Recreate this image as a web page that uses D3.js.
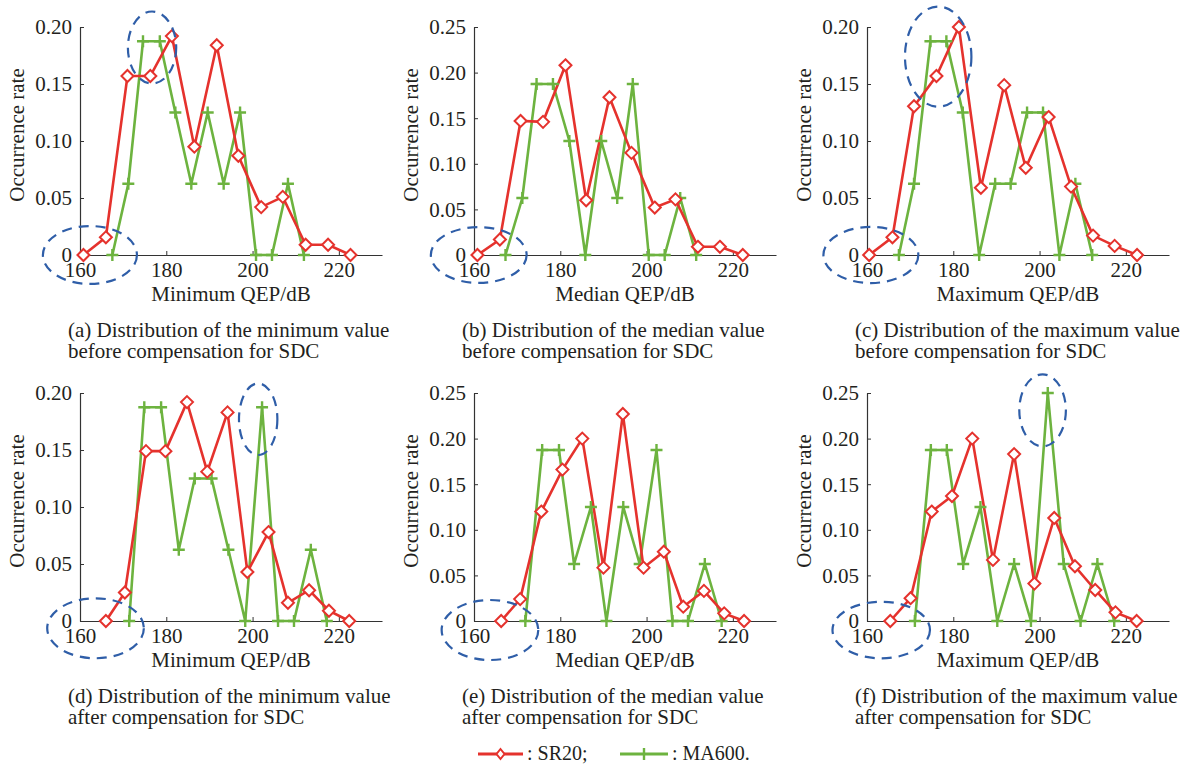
<!DOCTYPE html>
<html>
<head>
<meta charset="utf-8">
<script src="https://cdn.jsdelivr.net/npm/d3@7"></script>
<style>
  body { margin: 0; background: #fff; }
  svg text { font-family: "Liberation Serif", "DejaVu Serif", "Times New Roman", Times, serif; fill: #231f20; }
</style>
</head>
<body>
<svg id="chart" width="1194" height="764"></svg>
<script>
// x ticks and y ticks
const xTicks = [160, 180, 200, 220];
const yTicks20 = [0, 0.05, 0.10, 0.15, 0.20];
const yTicks25 = [0, 0.05, 0.10, 0.15, 0.20, 0.25];

// (a) minimum, before compensation
const sr20X_a = [160.8, 166, 171, 176.3, 181.3, 186.5, 191.7, 196.7, 202, 207, 212.3, 217.5, 222.7];
const sr20Y_a = [0, 0.0155, 0.157, 0.157, 0.192, 0.095, 0.184, 0.087, 0.042, 0.051, 0.009, 0.009, 0];
const ma600X_a = [167.5, 171.2, 174.6, 178.5, 182.1, 185.8, 189.6, 193.3, 197.1, 200.8, 204.5, 208.2, 211.9];
const ma600Y_a = [0, 0.0625, 0.1875, 0.1875, 0.125, 0.0625, 0.125, 0.0625, 0.125, 0, 0, 0.0625, 0];

// (b) median, before compensation
const sr20X_b = [160.8, 166, 170.8, 176, 181.2, 186, 191.4, 196.5, 201.9, 206.7, 211.9, 217, 222.3];
const sr20Y_b = [0, 0.017, 0.147, 0.146, 0.208, 0.060, 0.173, 0.112, 0.052, 0.061, 0.009, 0.009, 0];
const ma600X_b = [167.3, 171.2, 174.5, 178.3, 182.1, 185.8, 189.5, 193.2, 196.8, 200.5, 204.2, 207.8, 211.5];
const ma600Y_b = [0, 0.0625, 0.1875, 0.1875, 0.125, 0, 0.125, 0.0625, 0.1875, 0, 0, 0.0625, 0];

// (c) maximum, before compensation
const sr20X_c = [160.5, 165.9, 170.9, 176.1, 181.3, 186.4, 191.8, 196.8, 202.1, 207.3, 212.4, 217.4, 222.6];
const sr20Y_c = [0, 0.0155, 0.1305, 0.157, 0.200, 0.059, 0.149, 0.0765, 0.121, 0.060, 0.017, 0.008, 0];
const ma600X_c = [167.4, 170.9, 174.7, 178.4, 182.2, 186, 189.7, 193.3, 197.1, 200.8, 204.6, 208.3, 212.2];
const ma600Y_c = [0, 0.0625, 0.1875, 0.1875, 0.125, 0, 0.0625, 0.0625, 0.125, 0.125, 0, 0.0625, 0];

// (d) minimum, after compensation
const sr20X_d = [166, 170.4, 175.3, 179.8, 184.8, 189.5, 194.2, 198.8, 203.7, 208.2, 213.1, 217.7, 222.4];
const sr20Y_d = [0, 0.025, 0.149, 0.149, 0.192, 0.131, 0.183, 0.043, 0.078, 0.016, 0.027, 0.009, 0];
const ma600X_d = [171.4, 174.9, 178.8, 182.9, 186.6, 190.5, 194.4, 198.3, 202.2, 205.9, 209.6, 213.5, 217.2];
const ma600Y_d = [0, 0.1875, 0.1875, 0.0625, 0.125, 0.125, 0.0625, 0, 0.1875, 0, 0, 0.0625, 0];

// (e) median, after compensation
const sr20X_e = [166.3, 170.7, 175.6, 180.5, 185.1, 190, 194.5, 199.3, 204, 208.5, 213.3, 218, 222.6];
const sr20Y_e = [0, 0.024, 0.120, 0.166, 0.200, 0.0585, 0.227, 0.0585, 0.076, 0.0157, 0.033, 0.0084, 0];
const ma600X_e = [171.9, 175.8, 179.7, 183.2, 187.1, 190.7, 194.6, 198.4, 202.3, 206, 209.6, 213.5, 217.4];
const ma600Y_e = [0, 0.1875, 0.1875, 0.0625, 0.125, 0, 0.125, 0.0625, 0.1875, 0, 0, 0.0625, 0];

// (f) maximum, after compensation
const sr20X_f = [165.4, 170.1, 175, 179.7, 184.4, 189.2, 194.1, 198.8, 203.4, 208.2, 212.9, 217.6, 222.5];
const sr20Y_f = [0, 0.025, 0.120, 0.137, 0.200, 0.067, 0.183, 0.041, 0.113, 0.060, 0.034, 0.0095, 0];
const ma600X_f = [171.1, 174.8, 178.5, 182.3, 186.3, 190.2, 194.1, 198, 201.9, 205.6, 209.5, 213.4, 217.3];
const ma600Y_f = [0, 0.1875, 0.1875, 0.0625, 0.125, 0, 0.0625, 0, 0.25, 0.0625, 0, 0.0625, 0];

// dashed highlight ellipses, [centre dB, centre rate, radius dB, radius rate]
const marks_a = [[162.3, 0, 10.9, 0.0254], [176.7, 0.182, 5.6, 0.0316]];
const marks_b = [[161.1, 0, 11.1, 0.0306]];
const marks_c = [[160.9, 0, 11.0, 0.0246], [176.5, 0.174, 7.7, 0.0439]];
const marks_d = [[163.6, -0.0064, 11.2, 0.0263], [201.3, 0.177, 4.45, 0.0314]];
const marks_e = [[163.7, -0.0099, 11.2, 0.0329]];
const marks_f = [[163.3, -0.0099, 11.3, 0.031], [200.7, 0.231, 5.4, 0.0395]];

const xLabels = ['Minimum QEP/dB', 'Median QEP/dB', 'Maximum QEP/dB'];
const captions = [
  ['(a) Distribution of the minimum value', 'before compensation for SDC'],
  ['(b) Distribution of the median value', 'before compensation for SDC'],
  ['(c) Distribution of the maximum value', 'before compensation for SDC'],
  ['(d) Distribution of the minimum value', 'after compensation for SDC'],
  ['(e) Distribution of the median value', 'after compensation for SDC'],
  ['(f) Distribution of the maximum value', 'after compensation for SDC']
];
const legendNames = ['SR20', 'MA600'];

const RED = '#e5322d', GREEN = '#6db33f', BLUE = '#2f5ea8';
const FONT = '"Liberation Serif", "DejaVu Serif", "Times New Roman", Times, serif';

const zip = (xs, ys) => xs.map((x, i) => [x, ys[i]]);
const panels = [
  { red: zip(sr20X_a, sr20Y_a), green: zip(ma600X_a, ma600Y_a), marks: marks_a, yMax: 0.20, yTicks: yTicks20 },
  { red: zip(sr20X_b, sr20Y_b), green: zip(ma600X_b, ma600Y_b), marks: marks_b, yMax: 0.25, yTicks: yTicks25 },
  { red: zip(sr20X_c, sr20Y_c), green: zip(ma600X_c, ma600Y_c), marks: marks_c, yMax: 0.20, yTicks: yTicks20 },
  { red: zip(sr20X_d, sr20Y_d), green: zip(ma600X_d, ma600Y_d), marks: marks_d, yMax: 0.20, yTicks: yTicks20 },
  { red: zip(sr20X_e, sr20Y_e), green: zip(ma600X_e, ma600Y_e), marks: marks_e, yMax: 0.25, yTicks: yTicks25 },
  { red: zip(sr20X_f, sr20Y_f), green: zip(ma600X_f, ma600Y_f), marks: marks_f, yMax: 0.25, yTicks: yTicks25 }
];

const svg = d3.select('#chart').attr('font-family', FONT);
const colLeft = [80, 474, 867], rowBase = [255, 621];
const w = 302, h = 228;

panels.forEach((p, i) => {
  const left = colLeft[i % 3], base = rowBase[Math.floor(i / 3)];
  const g = svg.append('g').attr('transform', `translate(${left},${base - h})`);

  const x = d3.scaleLinear().domain([160, 230]).range([0, w]);
  const y = d3.scaleLinear().domain([0, p.yMax]).range([h, 0]);

  const xAxis = g.append('g').attr('transform', `translate(0,${h})`)
    .call(d3.axisBottom(x).tickValues(xTicks).tickSizeInner(-4).tickSizeOuter(0).tickPadding(7));
  const yAxis = g.append('g')
    .call(d3.axisLeft(y).tickValues(p.yTicks).tickSizeInner(-4).tickSizeOuter(0).tickPadding(8)
      .tickFormat(d => d === 0 ? '0' : d3.format('.2f')(d)));
  [xAxis, yAxis].forEach(a => {
    a.attr('font-family', FONT).attr('font-size', 21);
    a.select('.domain').attr('stroke', '#333').attr('stroke-width', 1.2);
    a.selectAll('.tick line').attr('stroke', '#333');
    a.selectAll('.tick text').attr('fill', '#231f20');
  });
  yAxis.selectAll('.tick text').attr('dy', '0.33em');

  const line = d3.line().x(d => x(d[0])).y(d => y(d[1]));
  g.append('path').datum(p.green).attr('d', line)
    .attr('fill', 'none').attr('stroke', GREEN).attr('stroke-width', 2.6);
  g.append('path').datum(p.red).attr('d', line)
    .attr('fill', 'none').attr('stroke', RED).attr('stroke-width', 2.6);

  g.selectAll('.plus').data(p.green).join('path')
    .attr('d', d => `M${x(d[0]) - 6},${y(d[1])}h12M${x(d[0])},${y(d[1]) - 6}v12`)
    .attr('stroke', GREEN).attr('stroke-width', 2.4);
  g.selectAll('.diamond').data(p.red).join('path')
    .attr('d', d => { const cx = x(d[0]), cy = y(d[1]), r = 6;
      return `M${cx},${cy - r}L${cx + r},${cy}L${cx},${cy + r}L${cx - r},${cy}Z`; })
    .attr('fill', '#fff').attr('stroke', RED).attr('stroke-width', 2);

  g.selectAll('.mark').data(p.marks).join('ellipse')
    .attr('cx', d => x(d[0])).attr('cy', d => y(d[1]))
    .attr('rx', d => x(d[0] + d[2]) - x(d[0])).attr('ry', d => y(0) - y(d[3]))
    .attr('fill', 'none').attr('stroke', BLUE).attr('stroke-width', 2.2)
    .attr('stroke-dasharray', '10,7');

  g.append('text').attr('x', w / 2).attr('y', h + 46).attr('text-anchor', 'middle')
    .attr('font-size', 21).text(xLabels[i % 3]);
  g.append('text').attr('transform', `translate(${-56},${h / 2 - 6}) rotate(-90)`)
    .attr('text-anchor', 'middle').attr('font-size', 21).text('Occurrence rate');

  const cap = g.append('text').attr('x', -12).attr('y', h + 82).attr('font-size', 21);
  cap.append('tspan').attr('x', -12).text(captions[i][0]);
  cap.append('tspan').attr('x', -12).attr('dy', 21).text(captions[i][1]);
});

// legend
const leg = svg.append('g').attr('transform', 'translate(478,754)');
const items = [
  { name: legendNames[0], color: RED, x: 0, len: 45 },
  { name: legendNames[1], color: GREEN, x: 142, len: 48 }
];
items.forEach((it, k) => {
  const gi = leg.append('g').attr('transform', `translate(${it.x},0)`);
  gi.append('line').attr('x1', 0).attr('x2', it.len).attr('stroke', it.color).attr('stroke-width', 3);
  const c = it.len / 2;
  if (k === 0) {
    gi.append('path').attr('d', `M${c},-5L${c + 4},0L${c},5L${c - 4},0Z`)
      .attr('fill', '#fff').attr('stroke', it.color).attr('stroke-width', 2);
  } else {
    gi.append('path').attr('d', `M${c},-6v12`).attr('stroke', it.color).attr('stroke-width', 2.4);
  }
  gi.append('text').attr('x', it.len + 4).attr('dy', '0.3em').attr('font-size', 20)
    .text(': ' + it.name + (k === 0 ? ';' : '.'));
});
</script>
</body>
</html>
